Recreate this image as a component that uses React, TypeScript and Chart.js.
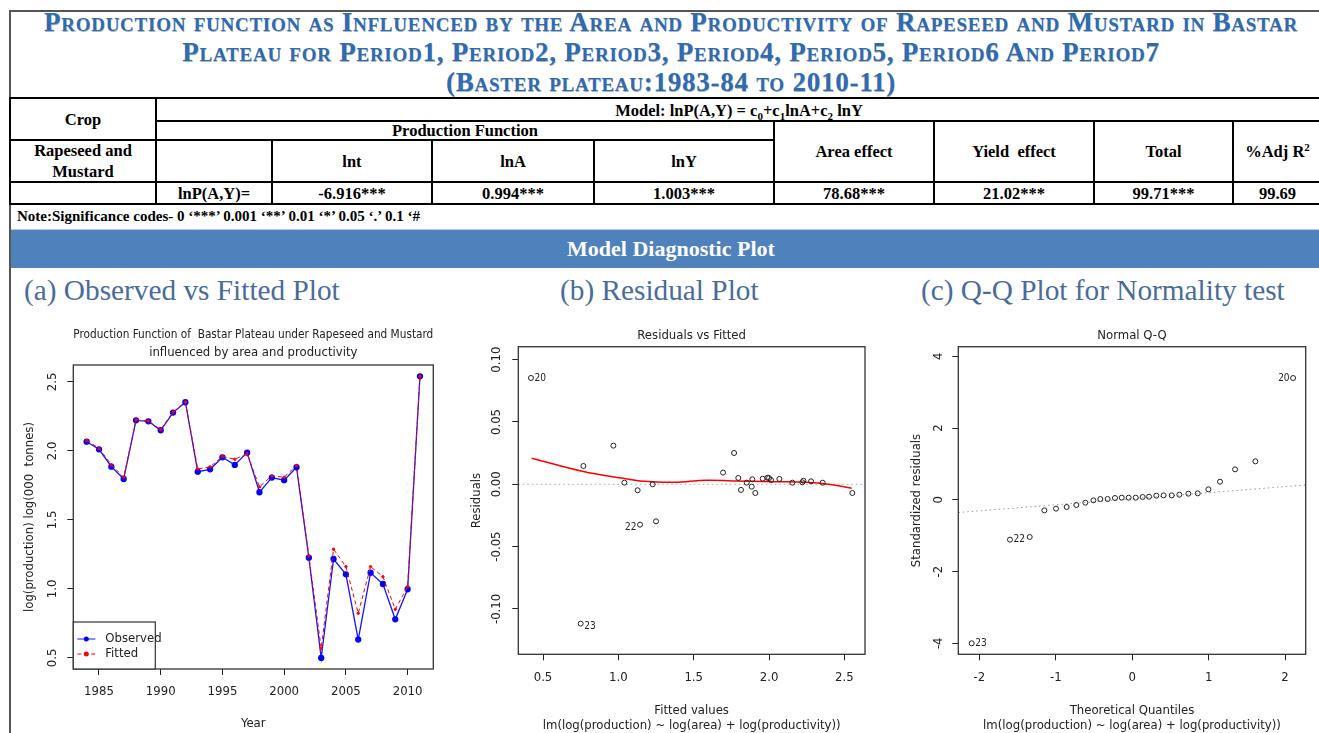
import React, { useEffect, useRef } from 'react';
import { Chart, registerables } from 'chart.js';

Chart.register(...registerables);

// ---------------- data ----------------
const YEARS = [1984, 1985, 1986, 1987, 1988, 1989, 1990, 1991, 1992, 1993, 1994, 1995, 1996, 1997,
  1998, 1999, 2000, 2001, 2002, 2003, 2004, 2005, 2006, 2007, 2008, 2009, 2010, 2011];
const OBSERVED = [2.067, 2.012, 1.886, 1.797, 2.222, 2.215, 2.150, 2.278, 2.353, 1.850, 1.867, 1.954, 1.899, 1.988,
  1.701, 1.807, 1.788, 1.882, 1.227, 0.500, 1.217, 1.106, 0.633, 1.118, 1.036, 0.780, 0.998, 2.541];
const FITTED = [2.075, 2.020, 1.900, 1.810, 2.225, 2.218, 2.155, 2.282, 2.355, 1.870, 1.885, 1.960, 1.940, 1.980,
  1.740, 1.820, 1.810, 1.895, 1.240, 0.570, 1.288, 1.162, 0.824, 1.162, 1.089, 0.853, 1.017, 2.541];

const RESID_FITTED = [0.420, 0.768, 0.967, 1.040, 1.128, 1.144, 1.228, 1.250, 0.750, 1.695, 1.768, 1.796, 1.814, 1.852,
  1.885, 1.889, 1.909, 1.958, 1.989, 2.000, 2.013, 2.069, 2.155, 2.221, 2.228, 2.279, 2.356, 2.553];
const RESIDUALS = [0.0853, 0.0147, 0.0310, 0.0013, -0.0048, -0.0324, 0.0000, -0.0297, -0.1118, 0.0094, 0.0251, 0.0051,
  -0.0045, 0.0013, -0.0019, 0.0040, -0.0070, 0.0045, 0.0053, 0.0050, 0.0035, 0.0043, 0.0013, 0.0016, 0.0029, 0.0024,
  0.0013, -0.0070];
const LOWESS_X = [0.425, 0.768, 1.033, 1.144, 1.365, 1.586, 1.763, 2.029, 2.250, 2.383, 2.549];
const LOWESS_Y = [0.0209, 0.0102, 0.0048, 0.0027, 0.0016, 0.0032, 0.0027, 0.0021, 0.0016, 0.0003, -0.0032];

const QQ_THEORETICAL = [-2.100, -1.599, -1.341, -1.149, -0.997, -0.857, -0.731, -0.613, -0.508, -0.417, -0.321, -0.225,
  -0.137, -0.046, 0.046, 0.137, 0.220, 0.316, 0.412, 0.517, 0.617, 0.735, 0.857, 0.997, 1.149, 1.346, 1.612, 2.105];
const QQ_STD_RESID = [-4.000, -1.110, -1.036, -0.293, -0.246, -0.200, -0.144, -0.079, -0.014, 0.023, 0.023, 0.051,
  0.060, 0.060, 0.060, 0.079, 0.088, 0.116, 0.125, 0.125, 0.144, 0.172, 0.181, 0.293, 0.506, 0.850, 1.073, 3.396];
const QQLINE_INTERCEPT = 0.031;
const QQLINE_SLOPE = 0.169;

const A_X_TICKS = [1985, 1990, 1995, 2000, 2005, 2010];
const A_Y_TICKS = [0.5, 1.0, 1.5, 2.0, 2.5];
const B_X_TICKS = [0.5, 1.0, 1.5, 2.0, 2.5];
const B_Y_TICKS = [-0.10, -0.05, 0.0, 0.05, 0.10];
const C_X_TICKS = [-2, -1, 0, 1, 2];
const C_Y_TICKS = [-4, -2, 0, 2, 4];

const RESID_LABELS = [
  { index: 0, text: '20', side: 'right', dy: 0 },
  { index: 5, text: '22', side: 'left', dy: 3 },
  { index: 8, text: '23', side: 'right', dy: 3 },
];
const QQ_LABELS = [
  { index: 0, text: '23', side: 'right', dy: 0 },
  { index: 1, text: '22', side: 'right', dy: 0 },
  { index: 27, text: '20', side: 'left', dy: 0 },
];

const TABLE_HEAD = ['lnt', 'lnA', 'lnY'];
const TABLE_VALUES = ['-6.916***', '0.994***', '1.003***', '78.68***', '21.02***', '99.71***', '99.69'];

// ---------------- styles ----------------
const RFONT = "'Liberation Sans Narrow', 'Arial Narrow', 'DejaVu Sans Condensed', 'Liberation Sans', Arial, sans-serif";
const SERIF = "'Liberation Serif', 'Times New Roman', Times, serif";
const INK = '#222';

// ---------------- plugins ----------------
const boxPlugin = {
  id: 'rBox',
  afterDraw(chart: any) {
    const { ctx, chartArea: a } = chart;
    ctx.save();
    ctx.strokeStyle = '#333';
    ctx.lineWidth = 1.3;
    ctx.strokeRect(a.left, a.top, a.right - a.left, a.bottom - a.top);
    ctx.restore();
  },
};

function makeRefLine(intercept: number, slope: number, color: string, dash: number[]) {
  return {
    id: 'refLine',
    beforeDatasetsDraw(chart: any) {
      const { ctx, chartArea: a, scales } = chart;
      const xs = scales.x;
      const ys = scales.y;
      ctx.save();
      ctx.beginPath();
      ctx.rect(a.left, a.top, a.right - a.left, a.bottom - a.top);
      ctx.clip();
      ctx.strokeStyle = color;
      ctx.lineWidth = 1;
      ctx.setLineDash(dash);
      ctx.beginPath();
      ctx.moveTo(xs.getPixelForValue(xs.min), ys.getPixelForValue(intercept + slope * xs.min));
      ctx.lineTo(xs.getPixelForValue(xs.max), ys.getPixelForValue(intercept + slope * xs.max));
      ctx.stroke();
      ctx.restore();
    },
  };
}

function makePointLabels(items: { index: number; text: string; side: string; dy: number }[]) {
  return {
    id: 'pointLabels',
    afterDatasetsDraw(chart: any) {
      const meta = chart.getDatasetMeta(0);
      const ctx = chart.ctx;
      ctx.save();
      ctx.font = `10px ${RFONT}`;
      ctx.fillStyle = INK;
      ctx.textBaseline = 'middle';
      items.forEach((it) => {
        const el = meta.data[it.index];
        if (!el) return;
        const left = it.side === 'left';
        ctx.textAlign = left ? 'right' : 'left';
        ctx.fillText(it.text, el.x + (left ? -3.5 : 3.5), el.y + it.dy);
      });
      ctx.restore();
    },
  };
}

const insetLegend = {
  id: 'insetLegend',
  afterDraw(chart: any) {
    const { ctx, chartArea: a } = chart;
    const w = 82;
    const h = 47;
    const x0 = a.left;
    const y0 = a.bottom - h;
    ctx.save();
    ctx.fillStyle = '#fff';
    ctx.fillRect(x0, y0, w, h);
    ctx.strokeStyle = '#333';
    ctx.lineWidth = 1.2;
    ctx.strokeRect(x0, y0, w, h);
    const ordered = [...chart.data.datasets].sort((p: any, q: any) => (q.order ?? 0) - (p.order ?? 0));
    ordered.forEach((ds: any, i: number) => {
      const y = y0 + 17 + i * 15;
      ctx.strokeStyle = ds.borderColor;
      ctx.lineWidth = 1;
      ctx.setLineDash(ds.borderDash || []);
      ctx.beginPath();
      ctx.moveTo(x0 + 4, y);
      ctx.lineTo(x0 + 22, y);
      ctx.stroke();
      ctx.setLineDash([]);
      ctx.fillStyle = ds.pointBackgroundColor;
      ctx.beginPath();
      ctx.arc(x0 + 13, y, 2.5, 0, Math.PI * 2);
      ctx.fill();
      ctx.fillStyle = INK;
      ctx.font = `13px ${RFONT}`;
      ctx.textAlign = 'left';
      ctx.textBaseline = 'middle';
      ctx.fillText(ds.label, x0 + 32, y);
    });
    ctx.restore();
  },
};

// ---------------- scale helpers ----------------
function xScale(ticks: number[], min: number, max: number, fmt: (v: number) => string, title: string | string[],
  height: number, tickPad: number, titlePad: number, titleLH: string) {
  return {
    type: 'linear',
    min,
    max,
    afterBuildTicks: (s: any) => { s.ticks = ticks.map((v) => ({ value: v })); },
    afterFit: (s: any) => { s.height = height; },
    grid: { drawOnChartArea: false, drawTicks: true, tickLength: 6, color: INK, tickColor: INK, lineWidth: 1 },
    border: { display: false },
    ticks: { autoSkip: false, maxRotation: 0, minRotation: 0, padding: tickPad, color: INK,
      font: { family: RFONT, size: 13 }, callback: (v: any) => fmt(Number(v)) },
    title: { display: true, text: title, color: INK, font: { family: RFONT, size: 13, lineHeight: titleLH },
      padding: { top: 0, bottom: titlePad } },
  };
}

function yScale(ticks: number[], min: number, max: number, fmt: (v: number) => string, title: string,
  width: number, tickPad: number, titlePad: number) {
  return {
    type: 'linear',
    min,
    max,
    afterBuildTicks: (s: any) => { s.ticks = ticks.map((v) => ({ value: v })); },
    afterFit: (s: any) => { s.width = width; },
    grid: { drawOnChartArea: false, drawTicks: true, tickLength: 6, color: INK, tickColor: INK, lineWidth: 1 },
    border: { display: false },
    ticks: { autoSkip: false, minRotation: 90, maxRotation: 90, crossAlign: 'center', padding: tickPad, color: INK,
      font: { family: RFONT, size: 13 }, callback: (v: any) => fmt(Number(v)) },
    title: { display: true, text: title, color: INK, font: { family: RFONT, size: 13 },
      padding: { top: titlePad, bottom: 0 } },
  };
}

function titleOpts(text: string | string[], top: number, bottom: number, lh: string) {
  return {
    display: true,
    text,
    fullSize: false,
    color: INK,
    font: { family: RFONT, size: 13, weight: 'normal', lineHeight: lh },
    padding: { top, bottom },
  };
}

// ---------------- chart configs ----------------
function configA(): any {
  return {
    type: 'line',
    data: {
      datasets: [
        {
          label: 'Observed',
          order: 1,
          data: YEARS.map((x, i) => ({ x, y: OBSERVED[i] })),
          borderColor: '#1414ff',
          backgroundColor: '#1414ff',
          pointBackgroundColor: '#0000ff',
          pointBorderColor: '#0000ff',
          borderWidth: 1.3,
          pointRadius: 2.5,
          tension: 0,
        },
        {
          label: 'Fitted',
          order: 0,
          data: YEARS.map((x, i) => ({ x, y: FITTED[i] })),
          borderColor: '#ff0000',
          backgroundColor: '#ff0000',
          pointBackgroundColor: '#ff0000',
          pointBorderColor: '#ff0000',
          borderWidth: 1,
          borderDash: [4, 3],
          pointRadius: 1.2,
          tension: 0,
        },
      ],
    },
    options: {
      animation: false,
      responsive: false,
      layout: { padding: { left: 0, right: 8.7, top: 0, bottom: 0 } },
      plugins: {
        legend: { display: false },
        tooltip: { enabled: false },
        title: titleOpts(['Production Function of  Bastar Plateau under Rapeseed and Mustard',
          'influenced by area and productivity'], 8, 3, '18px'),
      },
      scales: {
        x: xScale(A_X_TICKS, 1982.92, 2012.08, (v) => String(v), 'Year', 64, 9.2, 1.2, '15.6px'),
        y: yScale(A_Y_TICKS, 0.42, 2.623, (v) => v.toFixed(1), 'log(production) log(000  tonnes)', 61.3, 5.5, 10.2),
      },
    },
    plugins: [boxPlugin, insetLegend],
  };
}

function configB(): any {
  return {
    type: 'scatter',
    data: {
      datasets: [
        {
          label: 'Residuals',
          data: RESID_FITTED.map((x, i) => ({ x, y: RESIDUALS[i] })),
          pointStyle: 'circle',
          pointRadius: 2.5,
          borderWidth: 1,
          borderColor: INK,
          backgroundColor: 'rgba(0,0,0,0)',
        },
        {
          label: 'Smooth',
          data: LOWESS_X.map((x, i) => ({ x, y: LOWESS_Y[i] })),
          showLine: true,
          pointRadius: 0,
          borderColor: '#ff0000',
          borderWidth: 1.5,
          tension: 0.4,
        },
      ],
    },
    options: {
      animation: false,
      responsive: false,
      layout: { padding: { left: 0, right: 10, top: 0, bottom: 0 } },
      plugins: {
        legend: { display: false },
        tooltip: { enabled: false },
        title: titleOpts('Residuals vs Fitted', 10.2, 2.9, '15.6px'),
      },
      scales: {
        x: xScale(B_X_TICKS, 0.336, 2.637, (v) => v.toFixed(1),
          ['Fitted values', 'lm(log(production) ~ log(area) + log(productivity))'], 78.7, 9.9, 0, '15px'),
        y: yScale(B_Y_TICKS, -0.1364, 0.1104, (v) => v.toFixed(2), 'Residuals', 73.3, 0.5, 24.2),
      },
    },
    plugins: [boxPlugin, makeRefLine(0, 0, '#aaaaaa', [1.5, 3]), makePointLabels(RESID_LABELS)],
  };
}

function configC(): any {
  return {
    type: 'scatter',
    data: {
      datasets: [
        {
          label: 'Standardized residuals',
          data: QQ_THEORETICAL.map((x, i) => ({ x, y: QQ_STD_RESID[i] })),
          pointStyle: 'circle',
          pointRadius: 2.5,
          borderWidth: 1,
          borderColor: INK,
          backgroundColor: 'rgba(0,0,0,0)',
        },
      ],
    },
    options: {
      animation: false,
      responsive: false,
      layout: { padding: { left: 0, right: 9.3, top: 0, bottom: 0 } },
      plugins: {
        legend: { display: false },
        tooltip: { enabled: false },
        title: titleOpts('Normal Q-Q', 10.2, 2.9, '15.6px'),
      },
      scales: {
        x: xScale(C_X_TICKS, -2.275, 2.270, (v) => String(v),
          ['Theoretical Quantiles', 'lm(log(production) ~ log(area) + log(productivity))'], 78.7, 9.9, 0, '15px'),
        y: yScale(C_Y_TICKS, -4.307, 4.27, (v) => String(v), 'Standardized residuals', 73.3, 7.5, 23.9),
      },
    },
    plugins: [boxPlugin, makeRefLine(QQLINE_INTERCEPT, QQLINE_SLOPE, '#999999', [1.5, 3]), makePointLabels(QQ_LABELS)],
  };
}

function RChart({ make, left, top, width, height }: { make: () => any; left: number; top: number; width: number; height: number }) {
  const ref = useRef<HTMLCanvasElement>(null);
  useEffect(() => {
    const chart = new Chart(ref.current as HTMLCanvasElement, make());
    return () => chart.destroy();
  }, [make]);
  return (
    <canvas ref={ref} width={width} height={height}
      style={{ position: 'absolute', left, top, width, height, display: 'block' }} />
  );
}

// ---------------- page helpers ----------------
const LINE = '#000';
function HLine({ x1, x2, y, w = 2, c = LINE }: { x1: number; x2: number; y: number; w?: number; c?: string }) {
  return <div style={{ position: 'absolute', left: x1 - w / 2, top: y - w / 2, width: x2 - x1 + w, height: w, background: c }} />;
}
function VLine({ x, y1, y2, w = 2, c = LINE }: { x: number; y1: number; y2: number; w?: number; c?: string }) {
  return <div style={{ position: 'absolute', left: x - w / 2, top: y1 - w / 2, width: w, height: y2 - y1 + w, background: c }} />;
}
function Cell({ x1, x2, y1, y2, children, size = 16.5, dy = 0 }: { x1: number; x2: number; y1: number; y2: number; children: any; size?: number; dy?: number }) {
  return (
    <div style={{ position: 'absolute', left: x1, top: y1 + dy, width: x2 - x1, height: y2 - y1, display: 'flex',
      alignItems: 'center', justifyContent: 'center', textAlign: 'center', fontWeight: 'bold', fontSize: size,
      lineHeight: '21px', color: '#000', fontFamily: SERIF, whiteSpace: 'nowrap' }}>
      {children}
    </div>
  );
}
const subS: React.CSSProperties = { fontSize: 11, position: 'relative', top: 4, lineHeight: 0 };
const supS: React.CSSProperties = { fontSize: 11, position: 'relative', top: -6, lineHeight: 0 };

const COLS = [10, 156, 272, 432, 594, 774, 934, 1094, 1233, 1322];
const ROWS = [98, 121, 140, 182, 204];

export default function App() {
  useEffect(() => {
    document.body.style.margin = '0';
  }, []);
  const subStyle: React.CSSProperties = { position: 'absolute', top: 273, fontFamily: SERIF, fontSize: 29.3,
    lineHeight: '34px', color: '#4A6C9B', whiteSpace: 'nowrap' };
  return (
    <div style={{ position: 'absolute', left: 0, top: 0, width: 1319, height: 733, overflow: 'hidden', background: '#fff' }}>
      {/* outer frame */}
      <HLine x1={10} x2={1330} y={11} w={1.5} c="#555" />
      <VLine x={10} y1={11} y2={740} w={2} c="#555" />

      {/* title */}
      <div style={{ position: 'absolute', left: 10, top: 7, width: 1322, textAlign: 'center', fontFamily: SERIF,
        fontWeight: 'bold', fontSize: 27, lineHeight: '30px', fontVariant: 'small-caps', letterSpacing: '0.75px',
        color: '#2E6BB0', textShadow: '0.5px 0.5px 0.5px rgba(20,40,80,0.35)', whiteSpace: 'nowrap' }}>
        <div>Production function as Influenced by the Area and Productivity of Rapeseed and Mustard in Bastar</div>
        <div>Plateau for Period1, Period2, Period3, Period4, Period5, Period6 And Period7</div>
        <div>(Baster plateau:1983-84 to 2010-11)</div>
      </div>

      {/* table lines */}
      <HLine x1={COLS[0]} x2={COLS[9]} y={ROWS[0]} />
      <HLine x1={COLS[1]} x2={COLS[9]} y={ROWS[1]} />
      <HLine x1={COLS[0]} x2={COLS[5]} y={ROWS[2]} />
      <HLine x1={COLS[0]} x2={COLS[9]} y={ROWS[3]} />
      <HLine x1={COLS[0]} x2={COLS[9]} y={ROWS[4]} />
      <VLine x={COLS[0]} y1={ROWS[0]} y2={ROWS[4]} />
      <VLine x={COLS[1]} y1={ROWS[0]} y2={ROWS[4]} />
      <VLine x={COLS[2]} y1={ROWS[2]} y2={ROWS[4]} />
      <VLine x={COLS[3]} y1={ROWS[2]} y2={ROWS[4]} />
      <VLine x={COLS[4]} y1={ROWS[2]} y2={ROWS[4]} />
      <VLine x={COLS[5]} y1={ROWS[1]} y2={ROWS[4]} />
      <VLine x={COLS[6]} y1={ROWS[1]} y2={ROWS[4]} />
      <VLine x={COLS[7]} y1={ROWS[1]} y2={ROWS[4]} />
      <VLine x={COLS[8]} y1={ROWS[1]} y2={ROWS[4]} />

      {/* table text */}
      <Cell x1={COLS[0]} x2={COLS[1]} y1={ROWS[0]} y2={ROWS[2]}>Crop</Cell>
      <Cell x1={COLS[1]} x2={COLS[9]} y1={ROWS[0]} y2={ROWS[1]} size={16.5} dy={1}>
        <span>Model: lnP(A,Y) = c<span style={subS}>0</span>+c<span style={subS}>1</span>lnA+c<span style={subS}>2</span> lnY</span>
      </Cell>
      <Cell x1={COLS[1]} x2={COLS[5]} y1={ROWS[1]} y2={ROWS[2]}>Production Function</Cell>
      <Cell x1={COLS[0]} x2={COLS[1]} y1={ROWS[2]} y2={ROWS[3]}>Rapeseed and<br />Mustard</Cell>
      {TABLE_HEAD.map((t, i) => (
        <Cell key={t} x1={COLS[2 + i]} x2={COLS[3 + i]} y1={ROWS[2]} y2={ROWS[3]}>{t}</Cell>
      ))}
      <Cell x1={COLS[5]} x2={COLS[6]} y1={ROWS[1]} y2={ROWS[3]}>Area effect</Cell>
      <Cell x1={COLS[6]} x2={COLS[7]} y1={ROWS[1]} y2={ROWS[3]}>{'Yield\u00a0 effect'}</Cell>
      <Cell x1={COLS[7]} x2={COLS[8]} y1={ROWS[1]} y2={ROWS[3]}>Total</Cell>
      <Cell x1={COLS[8]} x2={COLS[9]} y1={ROWS[1]} y2={ROWS[3]}>
        <span>%Adj R<span style={supS}>2</span></span>
      </Cell>
      <Cell x1={COLS[1]} x2={COLS[2]} y1={ROWS[3]} y2={ROWS[4]}>lnP(A,Y)=</Cell>
      {TABLE_VALUES.map((t, i) => (
        <Cell key={i} x1={COLS[2 + i]} x2={COLS[3 + i]} y1={ROWS[3]} y2={ROWS[4]}>{t}</Cell>
      ))}
      <div style={{ position: 'absolute', left: 17, top: 205, height: 23, lineHeight: '23px', fontFamily: SERIF,
        fontWeight: 'bold', fontSize: 15, color: '#000', whiteSpace: 'nowrap' }}>
        {'Note:Significance codes- 0 \u2018***\u2019 0.001 \u2018**\u2019 0.01 \u2018*\u2019 0.05 \u2018.\u2019 0.1 \u2018#'}
      </div>

      {/* banner */}
      <div style={{ position: 'absolute', left: 11, top: 229, width: 1320, height: 38, background: '#4F81BD',
        borderTop: '1px solid #b7cbe4', display: 'flex', alignItems: 'center', justifyContent: 'center',
        color: '#fff', fontFamily: SERIF, fontWeight: 'bold', fontSize: 22 }}>
        Model Diagnostic Plot
      </div>

      {/* section subtitles */}
      <div style={{ ...subStyle, left: 24 }}>(a) Observed vs Fitted Plot</div>
      <div style={{ ...subStyle, left: 560 }}>(b) Residual Plot</div>
      <div style={{ ...subStyle, left: 921 }}>(c) Q-Q Plot for Normality test</div>

      {/* charts */}
      <RChart make={configA} left={12} top={318} width={430} height={415} />
      <RChart make={configB} left={445} top={318} width={430} height={415} />
      <RChart make={configC} left={885} top={318} width={430} height={415} />
    </div>
  );
}
